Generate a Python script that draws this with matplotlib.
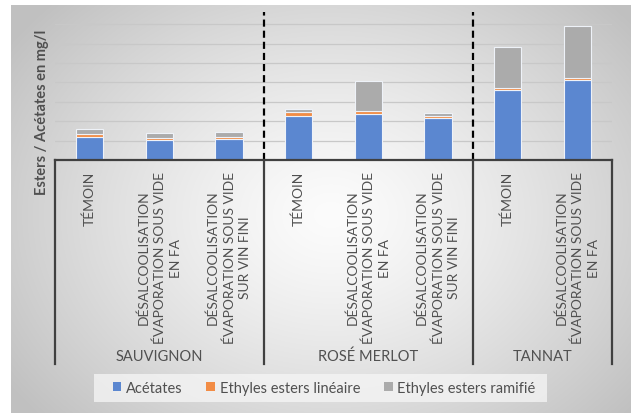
import numpy as np
import matplotlib
matplotlib.use("Agg")
import matplotlib.pyplot as plt
from matplotlib.patches import Patch, Rectangle

plt.rcParams['font.family'] = ['Lato', 'DejaVu Sans']

# Data
cepages = ["SAUVIGNON", "ROSÉ MERLOT", "TANNAT"]
modalites = [
    ["TÉMOIN",
     "DÉSALCOOLISATION\nÉVAPORATION SOUS VIDE\nEN FA",
     "DÉSALCOOLISATION\nÉVAPORATION SOUS VIDE\nSUR VIN FINI"],
    ["TÉMOIN",
     "DÉSALCOOLISATION\nÉVAPORATION SOUS VIDE\nEN FA",
     "DÉSALCOOLISATION\nÉVAPORATION SOUS VIDE\nSUR VIN FINI"],
    ["TÉMOIN",
     "DÉSALCOOLISATION\nÉVAPORATION SOUS VIDE\nEN FA"],
]
series_names = ["Acétates", "Ethyles esters linéaire", "Ethyles esters ramifié"]
acetates = [1.17, 1.01, 1.07, 2.28, 2.36, 2.16, 3.61, 4.14]
esters_lineaires = [0.19, 0.14, 0.13, 0.18, 0.15, 0.12, 0.09, 0.09]
esters_ramifies = [0.25, 0.24, 0.23, 0.18, 1.58, 0.13, 2.12, 2.66]

colors = ["#5B87D0", "#F28C45", "#ABABAB"]
text_color = "#505050"
line_color = "#404040"

W, H = 634, 414
fig = plt.figure(figsize=(W / 100, H / 100), dpi=100)
fig.patch.set_facecolor("white")

# Chart area with a soft radial gradient
bg = fig.add_axes([11 / W, 0, 620 / W, 408 / H], zorder=-10)
gx, gy = np.meshgrid(np.linspace(0, 620, 620), np.linspace(0, 408, 408))
d = np.sqrt(((gx - 320) / 320) ** 2 + ((gy - 210) / 250) ** 2)
shade = np.clip(252 - 46 * d ** 1.3, 192, 255) / 255.0
bg.imshow(np.dstack([shade] * 3), aspect="auto", interpolation="bilinear")
bg.axis("off")

# Bar plot
ax = fig.add_axes([55 / W, 253 / H, 557 / W, 148 / H])
ax.patch.set_alpha(0)
x = np.arange(len(acetates))
width = 0.39
bottom = np.zeros(len(x))
for vals, col, name in zip([acetates, esters_lineaires, esters_ramifies], colors, series_names):
    ax.bar(x, vals, width, bottom=bottom, color=col, edgecolor="#eef2f8",
           linewidth=0.8, label=name, zorder=3)
    bottom += np.array(vals)

ax.set_xlim(-0.5, len(x) - 0.5)
ax.set_ylim(0, 7.63)
ax.set_yticks(np.arange(1, 8))
ax.yaxis.grid(True, color="#c8c8c8", linewidth=0.9)
ax.set_axisbelow(True)
ax.tick_params(left=False, bottom=False, labelleft=False, labelbottom=False)
for s in ax.spines.values():
    s.set_visible(False)

# Separators between grape varieties
sizes = [len(m) for m in modalites]
bounds = np.cumsum(sizes)[:-1] - 0.5
for b in bounds:
    ax.axvline(b, color="black", linestyle=(0, (3.2, 1.8)), linewidth=1.6, zorder=4)

fig.text(42 / W, 1 - 112 / H, "Esters / Acétates en mg/l", rotation=90,
         ha="center", va="center", fontsize=10.5, fontweight="bold", color=text_color)

# Multi-level category axis
cax = fig.add_axes([55 / W, 49 / H, 557 / W, 204 / H])
cax.set_xlim(-0.5, len(x) - 0.5)
cax.set_ylim(0, 1)
cax.axis("off")
cax.plot([-0.5, len(x) - 0.5], [1, 1], color=line_color, lw=1.6, clip_on=False,
         solid_capstyle="projecting")
edges = [-0.5] + list(bounds) + [len(x) - 0.5]
for e in edges:
    cax.plot([e, e], [0, 1], color=line_color, lw=1.6, clip_on=False)

i = 0
for g, (cep, mods) in enumerate(zip(cepages, modalites)):
    for m in mods:
        cax.text(i, 0.946, m, rotation=90, ha="center", va="top",
                 multialignment="center", fontsize=10, color=text_color,
                 linespacing=1.38)
        i += 1
    cax.text((edges[g] + edges[g + 1]) / 2, 0.04, cep, ha="center", va="center",
             fontsize=10.5, color=text_color)

# Legend on a light panel
fig.patches.append(Rectangle((94 / W, 1 - 403 / H), 453 / W, 28 / H,
                             transform=fig.transFigure, facecolor="#f6f6f6",
                             edgecolor="none", alpha=0.75, zorder=1))
handles = [Patch(facecolor=c, edgecolor="none") for c in colors]
leg = fig.legend(handles, series_names, loc="center",
                 bbox_to_anchor=(324 / W, 1 - 389 / H), ncol=3, frameon=False,
                 handlelength=0.6, handleheight=0.6,
                 handletextpad=0.3, columnspacing=1.65, fontsize=10.5,
                 borderpad=0.4)
for t in leg.get_texts():
    t.set_color(text_color)

fig.savefig("out.png", dpi=100)
